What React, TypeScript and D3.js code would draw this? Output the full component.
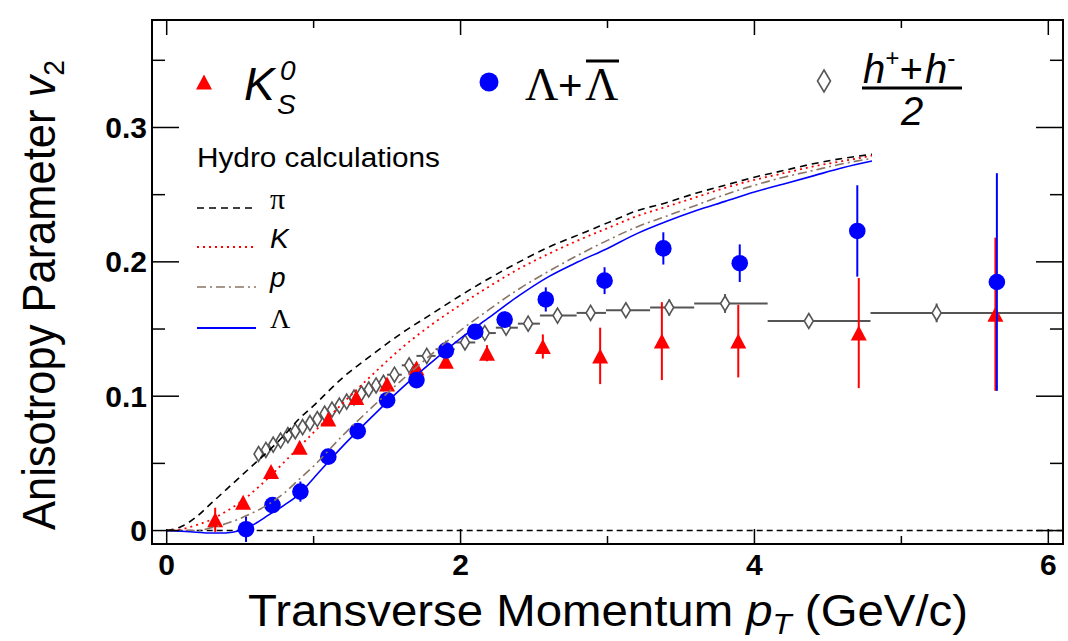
import React from "react";
import * as d3 from "d3";

// ---------- data ----------
const hydroPt = [0, 0.1, 0.2, 0.3, 0.4, 0.5, 0.6, 0.7, 0.8, 0.9, 1.0, 1.2, 1.4, 1.6, 1.8, 2.0, 2.2, 2.4, 2.6, 2.8, 3.0, 3.2, 3.4, 3.6, 3.8, 4.0, 4.2, 4.4, 4.6, 4.8];
const piV2 = [0, 0.003, 0.010, 0.020, 0.030, 0.040, 0.050, 0.060, 0.071, 0.083, 0.093, 0.114, 0.131, 0.147, 0.161, 0.175, 0.188, 0.200, 0.211, 0.220, 0.229, 0.238, 0.244, 0.251, 0.257, 0.263, 0.268, 0.273, 0.277, 0.280];
const kHydroV2 = [0, 0.001, 0.004, 0.008, 0.014, 0.021, 0.030, 0.040, 0.051, 0.062, 0.073, 0.095, 0.116, 0.136, 0.153, 0.168, 0.182, 0.195, 0.206, 0.216, 0.225, 0.234, 0.241, 0.248, 0.255, 0.261, 0.266, 0.271, 0.275, 0.279];
const pHydroV2 = [0, 0, 0.000, 0.002, 0.005, 0.009, 0.014, 0.020, 0.028, 0.038, 0.048, 0.071, 0.092, 0.112, 0.131, 0.149, 0.165, 0.180, 0.193, 0.205, 0.216, 0.226, 0.234, 0.242, 0.250, 0.257, 0.263, 0.268, 0.273, 0.277];
const lamHydroV2 = [0, -0.0005, -0.0012, -0.0018, -0.0018, 0.000, 0.005, 0.012, 0.019, 0.027, 0.039, 0.063, 0.085, 0.106, 0.125, 0.143, 0.159, 0.175, 0.189, 0.200, 0.210, 0.221, 0.230, 0.238, 0.245, 0.252, 0.258, 0.264, 0.270, 0.275];

const k0Pt = [0.33, 0.52, 0.71, 0.905, 1.10, 1.29, 1.50, 1.70, 1.90, 2.18, 2.56, 2.95, 3.37, 3.89, 4.71, 5.64];
const k0V2 = [0.008, 0.021, 0.044, 0.062, 0.083, 0.099, 0.109, 0.121, 0.126, 0.132, 0.137, 0.130, 0.141, 0.141, 0.147, 0.161];
const k0Err = [0.009, 0.004, 0.004, 0.004, 0.004, 0.004, 0.004, 0.004, 0.005, 0.006, 0.009, 0.021, 0.029, 0.027, 0.041, 0.057];

const lamPt = [0.54, 0.72, 0.91, 1.10, 1.30, 1.50, 1.70, 1.90, 2.10, 2.30, 2.58, 2.98, 3.38, 3.90, 4.70, 5.65];
const lamV2 = [0.001, 0.019, 0.029, 0.055, 0.074, 0.097, 0.112, 0.134, 0.148, 0.157, 0.172, 0.186, 0.210, 0.199, 0.223, 0.185];
const lamErr = [0.0095, 0.004, 0.0075, 0.004, 0.004, 0.004, 0.004, 0.004, 0.005, 0.006, 0.009, 0.010, 0.012, 0.014, 0.034, 0.081];

const hPt = [0.625, 0.675, 0.725, 0.775, 0.825, 0.875, 0.925, 0.975, 1.025, 1.075, 1.125, 1.175, 1.225, 1.275, 1.325, 1.375, 1.425, 1.475, 1.55, 1.65, 1.77, 1.90, 2.03, 2.165, 2.31, 2.46, 2.66, 2.885, 3.125, 3.42, 3.80, 4.37, 5.24];
const hV2 = [0.057, 0.060, 0.064, 0.067, 0.071, 0.074, 0.077, 0.080, 0.083, 0.087, 0.090, 0.093, 0.096, 0.099, 0.102, 0.105, 0.108, 0.110, 0.116, 0.123, 0.130, 0.135, 0.140, 0.147, 0.151, 0.154, 0.160, 0.162, 0.164, 0.166, 0.169, 0.156, 0.162];
const hLo = [0.60, 0.65, 0.70, 0.75, 0.80, 0.85, 0.90, 0.95, 1.00, 1.05, 1.10, 1.15, 1.20, 1.25, 1.30, 1.35, 1.40, 1.45, 1.50, 1.60, 1.70, 1.83, 1.96, 2.10, 2.24, 2.39, 2.54, 2.79, 2.99, 3.29, 3.59, 4.09, 4.79];
const hHi = [0.65, 0.70, 0.75, 0.80, 0.85, 0.90, 0.95, 1.00, 1.05, 1.10, 1.15, 1.20, 1.25, 1.30, 1.35, 1.40, 1.45, 1.50, 1.60, 1.70, 1.83, 1.96, 2.10, 2.24, 2.39, 2.54, 2.79, 2.99, 3.29, 3.59, 4.09, 4.79, 6.50];
const hErr = [0.001, 0.001, 0.001, 0.001, 0.001, 0.001, 0.001, 0.001, 0.001, 0.001, 0.001, 0.001, 0.001, 0.001, 0.001, 0.001, 0.001, 0.001, 0.001, 0.001, 0.002, 0.002, 0.002, 0.002, 0.003, 0.003, 0.004, 0.005, 0.005, 0.006, 0.007, 0.004, 0.007];

const yMajor = [0, 0.1, 0.2, 0.3];
const yMinor = [0.05, 0.15, 0.25, 0.35];
const xMajor = [0, 2, 4, 6];
const xMinor = [1, 3, 5];

// ---------- layout ----------
const W = 1068, H = 641;
const L = 152, R = 1063, T = 20, B = 544;
const x = d3.scaleLinear().domain([-0.1, 6.1]).range([L, R]);
const y = d3.scaleLinear().domain([-0.01, 0.38]).range([B, T]);

const SANS = "'Liberation Sans', Arial, Helvetica, sans-serif";
const SERIF = "'Liberation Serif', 'Times New Roman', serif";
const RED = "#ff0000", BLUE = "#0000ff", GRAY = "#555555", BROWN = "#8a7566";

const line = d3.line<[number, number]>().x(d => x(d[0])).y(d => y(d[1])).curve(d3.curveMonotoneX);
const mk = (v: number[]) => hydroPt.map((p, i) => [p, v[i]] as [number, number]);

const triPath = (w: number, h: number) => `M0,${-h / 2}L${w / 2},${h / 2}L${-w / 2},${h / 2}Z`;
const diaPath = (w: number, h: number) => `M0,${-h / 2}L${w / 2},0L0,${h / 2}L${-w / 2},0Z`;

export default function App() {
  return (
    <svg width={W} height={H} style={{ position: "absolute", left: 0, top: 0, background: "#fff" }}>
      <defs>
        <clipPath id="plot"><rect x={L} y={T} width={R - L} height={B - T} /></clipPath>
      </defs>
      <rect x={0} y={0} width={W} height={H} fill="#fff" />

      <g clipPath="url(#plot)">
        {/* zero line */}
        <line x1={x(0)} x2={R} y1={y(0)} y2={y(0)} stroke="#000" strokeWidth={1.5} strokeDasharray="6,4" />

        {/* h+ + h- */}
        {hPt.map((p, i) => (
          <g key={"h" + i}>
            <line x1={x(hLo[i])} x2={x(hHi[i])} y1={y(hV2[i])} y2={y(hV2[i])} stroke={GRAY} strokeWidth={2} />
            <line x1={x(p)} x2={x(p)} y1={y(hV2[i] - hErr[i])} y2={y(hV2[i] + hErr[i])} stroke={GRAY} strokeWidth={2} />
          </g>
        ))}
        {hPt.map((p, i) => (
          <path key={"hm" + i} d={diaPath(9, 15)} transform={`translate(${x(p)},${y(hV2[i])})`} fill="#fff" stroke={GRAY} strokeWidth={1.6} />
        ))}

        {/* K0S */}
        {k0Pt.map((p, i) => (
          <g key={"k" + i}>
            <line x1={x(p)} x2={x(p)} y1={y(k0V2[i] - k0Err[i])} y2={y(k0V2[i] + k0Err[i])} stroke={RED} strokeWidth={2} />
            <path d={triPath(16, 15)} transform={`translate(${x(p)},${y(k0V2[i])})`} fill={RED} />
          </g>
        ))}

        {/* Lambda */}
        {lamPt.map((p, i) => (
          <g key={"l" + i}>
            <line x1={x(p)} x2={x(p)} y1={y(lamV2[i] - lamErr[i])} y2={y(lamV2[i] + lamErr[i])} stroke={BLUE} strokeWidth={2} />
            <circle cx={x(p)} cy={y(lamV2[i])} r={8.3} fill={BLUE} />
          </g>
        ))}

        {/* hydro curves */}
        <path d={line(mk(piV2)) || ""} fill="none" stroke="#000" strokeWidth={1.6} strokeDasharray="7,5" />
        <path d={line(mk(kHydroV2)) || ""} fill="none" stroke={RED} strokeWidth={1.8} strokeDasharray="2,4" />
        <path d={line(mk(pHydroV2)) || ""} fill="none" stroke={BROWN} strokeWidth={1.6} strokeDasharray="9,4,2,4" />
        <path d={line(mk(lamHydroV2)) || ""} fill="none" stroke={BLUE} strokeWidth={1.6} />
      </g>

      {/* frame */}
      <rect x={L} y={T} width={R - L} height={B - T} fill="none" stroke="#000" strokeWidth={2} />

      {/* y ticks */}
      {yMajor.map(v => (
        <g key={"ym" + v}>
          <line x1={L} x2={L + 27} y1={y(v)} y2={y(v)} stroke="#000" strokeWidth={1.5} />
          <line x1={R} x2={R - 27} y1={y(v)} y2={y(v)} stroke="#000" strokeWidth={1.5} />
          <text x={L - 5} y={y(v) + 10.5} textAnchor="end" fontFamily={SANS} fontWeight="bold" fontSize={30}>{v === 0 ? "0" : v.toFixed(1)}</text>
        </g>
      ))}
      {yMinor.map(v => (
        <g key={"yn" + v}>
          <line x1={L} x2={L + 13} y1={y(v)} y2={y(v)} stroke="#000" strokeWidth={1.5} />
          <line x1={R} x2={R - 13} y1={y(v)} y2={y(v)} stroke="#000" strokeWidth={1.5} />
        </g>
      ))}
      {/* x ticks */}
      {xMajor.map(v => (
        <g key={"xm" + v}>
          <line x1={x(v)} x2={x(v)} y1={B} y2={B - 15} stroke="#000" strokeWidth={1.5} />
          <line x1={x(v)} x2={x(v)} y1={T} y2={T + 15} stroke="#000" strokeWidth={1.5} />
          <text x={x(v)} y={575} textAnchor="middle" fontFamily={SANS} fontWeight="bold" fontSize={30}>{v}</text>
        </g>
      ))}
      {xMinor.map(v => (
        <g key={"xn" + v}>
          <line x1={x(v)} x2={x(v)} y1={B} y2={B - 8} stroke="#000" strokeWidth={1.5} />
          <line x1={x(v)} x2={x(v)} y1={T} y2={T + 8} stroke="#000" strokeWidth={1.5} />
        </g>
      ))}

      {/* axis titles */}
      <text x={248} y={626} fontFamily={SANS} fontSize={44} textLength={720} lengthAdjust="spacingAndGlyphs">
        Transverse Momentum <tspan fontStyle="italic">p</tspan><tspan fontStyle="italic" fontSize={29} dy={8}>T</tspan><tspan dy={-8}> (GeV/c)</tspan>
      </text>
      <text transform="translate(55,530) rotate(-90)" x={0} y={0} fontFamily={SANS} fontSize={46} textLength={470} lengthAdjust="spacingAndGlyphs">
        Anisotropy Parameter  <tspan fontStyle="italic">v</tspan><tspan fontSize={30} dy={9}>2</tspan>
      </text>

      {/* top legend */}
      <path d={triPath(16, 15)} transform="translate(204,82)" fill={RED} />
      <text x={244} y={100} fontFamily={SANS} fontStyle="italic" fontSize={46}>K</text>
      <text x={280} y={80} fontFamily={SANS} fontStyle="italic" fontSize={28}>0</text>
      <text x={277} y={114} fontFamily={SANS} fontStyle="italic" fontSize={28}>S</text>

      <circle cx={489} cy={82} r={9.5} fill={BLUE} />
      <text x={525} y={100} fontFamily={SERIF} fontSize={46}>Λ</text>
      <text x={558} y={100} fontFamily={SANS} fontSize={42}>+</text>
      <text x={585} y={100} fontFamily={SERIF} fontSize={46}>Λ</text>
      <line x1={586} x2={619} y1={61} y2={61} stroke="#000" strokeWidth={3} />

      <path d={diaPath(13, 22)} transform="translate(824,81)" fill="#fff" stroke={GRAY} strokeWidth={1.6} />
      <text x={863} y={83} fontFamily={SANS} fontStyle="italic" fontSize={40}>h</text>
      <text x={885} y={66} fontFamily={SANS} fontStyle="italic" fontSize={24}>+</text>
      <text x={899} y={83} fontFamily={SANS} fontStyle="italic" fontSize={40}>+</text>
      <text x={925} y={83} fontFamily={SANS} fontStyle="italic" fontSize={40}>h</text>
      <text x={947} y={66} fontFamily={SANS} fontStyle="italic" fontSize={24}>-</text>
      <line x1={862} x2={962} y1={88} y2={88} stroke="#000" strokeWidth={3} />
      <text x={912} y={125} textAnchor="middle" fontFamily={SANS} fontStyle="italic" fontSize={40}>2</text>

      {/* hydro legend */}
      <text x={197} y={167} fontFamily={SANS} fontSize={27} textLength={243} lengthAdjust="spacingAndGlyphs">Hydro calculations</text>
      <line x1={197} x2={256} y1={208} y2={208} stroke="#000" strokeWidth={1.6} strokeDasharray="7,5" />
      <line x1={197} x2={256} y1={247} y2={247} stroke={RED} strokeWidth={1.8} strokeDasharray="2,4" />
      <line x1={197} x2={256} y1={287} y2={287} stroke={BROWN} strokeWidth={1.6} strokeDasharray="9,4,2,4" />
      <line x1={197} x2={256} y1={328} y2={328} stroke={BLUE} strokeWidth={1.8} />
      <text x={270} y={209} fontFamily={SERIF} fontSize={30}>π</text>
      <text x={270} y={248} fontFamily={SANS} fontStyle="italic" fontSize={28}>K</text>
      <text x={270} y={287} fontFamily={SANS} fontStyle="italic" fontSize={28}>p</text>
      <text x={270} y={328} fontFamily={SERIF} fontSize={28}>Λ</text>
    </svg>
  );
}
